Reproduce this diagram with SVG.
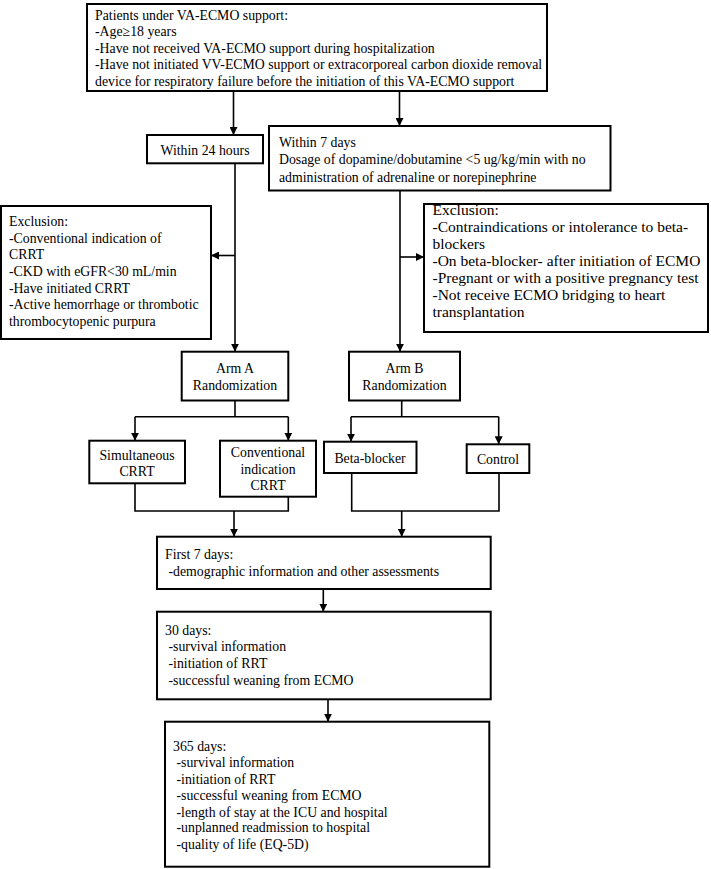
<svg xmlns="http://www.w3.org/2000/svg" width="711" height="869" viewBox="0 0 711 869">
<style>
.box{fill:#fff;stroke:#000;stroke-width:2}
.t{font-family:"Liberation Serif","Times New Roman",serif;font-size:13.8px;fill:#000}
.tb{font-family:"Liberation Serif","Times New Roman",serif;font-size:15.5px;fill:#000}
.c{text-anchor:middle}
.ln{fill:none;stroke:#000;stroke-width:1.6}
</style>
<defs>
<marker id="ah" markerUnits="userSpaceOnUse" markerWidth="8" markerHeight="8" refX="8" refY="4" orient="auto">
<path d="M0,0 L8,4 L0,8 z" fill="#000"/>
</marker>
</defs>
<rect width="711" height="869" fill="#fff"/>
<g id="connectors">
<path class="ln" d="M233.5,91 V135" marker-end="url(#ah)"/>
<path class="ln" d="M399.5,91 V126" marker-end="url(#ah)"/>
<path class="ln" d="M235,163.3 V351.7" marker-end="url(#ah)"/>
<path class="ln" d="M235,255.5 H211" marker-end="url(#ah)"/>
<path class="ln" d="M400,190.5 V351.7" marker-end="url(#ah)"/>
<path class="ln" d="M400,257 H424" marker-end="url(#ah)"/>
<path class="ln" d="M235,400.5 V416.7 M135,416.7 H288.3"/>
<path class="ln" d="M135,416.7 V440.7" marker-end="url(#ah)"/>
<path class="ln" d="M288.3,416.7 V440.7" marker-end="url(#ah)"/>
<path class="ln" d="M401.7,400.5 V416.7 M351,416.7 H498.7"/>
<path class="ln" d="M351,416.7 V441.7" marker-end="url(#ah)"/>
<path class="ln" d="M498.7,416.7 V444.3" marker-end="url(#ah)"/>
<path class="ln" d="M135,483.3 V511 H288.3 V496.7"/>
<path class="ln" d="M234,511 V536.7" marker-end="url(#ah)"/>
<path class="ln" d="M351.7,473 V511 H499 V473"/>
<path class="ln" d="M401.7,511 V536.7" marker-end="url(#ah)"/>
<path class="ln" d="M323.3,589 V611.7" marker-end="url(#ah)"/>
<path class="ln" d="M328,699.3 V721.7" marker-end="url(#ah)"/>
</g>
<g id="inclusion">
<rect class="box" x="87" y="4" width="460" height="87"/>
<text class="t" x="95" y="19.5">Patients under VA-ECMO support:</text>
<text class="t" x="95" y="36">-Age≥18 years</text>
<text class="t" x="95" y="52.5">-Have not received VA-ECMO support during hospitalization</text>
<text class="t" x="95" y="69">-Have not initiated VV-ECMO support or extracorporeal carbon dioxide removal</text>
<text class="t" x="95" y="85.5">device for respiratory failure before the initiation of this VA-ECMO support</text>
</g>
<g id="within24">
<rect class="box" x="147" y="135" width="116" height="28.3"/>
<text class="t c" x="205" y="154.5">Within 24 hours</text>
</g>
<g id="within7">
<rect class="box" x="269" y="126" width="341.5" height="64.5"/>
<text class="t" x="279" y="146.5">Within 7 days</text>
<text class="t" x="279" y="164">Dosage of dopamine/dobutamine &lt;5 ug/kg/min with no</text>
<text class="t" x="279" y="181.5">administration of adrenaline or norepinephrine</text>
</g>
<g id="exclusionA">
<rect class="box" x="1" y="206" width="210" height="133"/>
<text class="t" x="9" y="226">Exclusion:</text>
<text class="t" x="9" y="242.7">-Conventional indication of</text>
<text class="t" x="9" y="259.3">CRRT</text>
<text class="t" x="9" y="276">-CKD with eGFR&lt;30 mL/min</text>
<text class="t" x="9" y="292.7">-Have initiated CRRT</text>
<text class="t" x="9" y="309.3">-Active hemorrhage or thrombotic</text>
<text class="t" x="9" y="326">thrombocytopenic purpura</text>
</g>
<g id="exclusionB">
<rect class="box" x="424" y="204" width="284" height="128"/>
<text class="tb" x="432.5" y="215">Exclusion:</text>
<text class="tb" x="432.5" y="232">-Contraindications or intolerance to beta-</text>
<text class="tb" x="432.5" y="249">blockers</text>
<text class="tb" x="432.5" y="266">-On beta-blocker- after initiation of ECMO</text>
<text class="tb" x="432.5" y="283">-Pregnant or with a positive pregnancy test</text>
<text class="tb" x="432.5" y="300">-Not receive ECMO bridging to heart</text>
<text class="tb" x="432.5" y="317">transplantation</text>
</g>
<g id="armA">
<rect class="box" x="181.7" y="351.7" width="106.6" height="48.8"/>
<text class="t c" x="235" y="373">Arm A</text>
<text class="t c" x="235" y="389.5">Randomization</text>
</g>
<g id="armB">
<rect class="box" x="349" y="351.7" width="111" height="48.8"/>
<text class="t c" x="404.5" y="373">Arm B</text>
<text class="t c" x="404.5" y="389.5">Randomization</text>
</g>
<g id="simultaneous">
<rect class="box" x="89.3" y="440.7" width="95.7" height="42.6"/>
<text class="t c" x="137" y="459.5">Simultaneous</text>
<text class="t c" x="137" y="475.5">CRRT</text>
</g>
<g id="conventional">
<rect class="box" x="220" y="440.7" width="96" height="56"/>
<text class="t c" x="268" y="457">Conventional</text>
<text class="t c" x="268" y="473.5">indication</text>
<text class="t c" x="268" y="490">CRRT</text>
</g>
<g id="betablocker">
<rect class="box" x="324" y="441.7" width="92.5" height="31.3"/>
<text class="t c" x="370" y="462.5">Beta-blocker</text>
</g>
<g id="control">
<rect class="box" x="466.7" y="444.3" width="62.6" height="28.7"/>
<text class="t c" x="498" y="463.5">Control</text>
</g>
<g id="first7">
<rect class="box" x="157" y="536.7" width="333.7" height="52.3"/>
<text class="t" x="165" y="559">First 7 days:</text>
<text class="t" x="168.5" y="576">-demographic information and other assessments</text>
</g>
<g id="day30">
<rect class="box" x="157" y="611.7" width="333.7" height="87.6"/>
<text class="t" x="165" y="634.5">30 days:</text>
<text class="t" x="168.5" y="651">-survival information</text>
<text class="t" x="168.5" y="667.7">-initiation of RRT</text>
<text class="t" x="168.5" y="684.5">-successful weaning from ECMO</text>
</g>
<g id="day365">
<rect class="box" x="165" y="721.7" width="324.3" height="145"/>
<text class="t" x="173" y="751">365 days:</text>
<text class="t" x="176.5" y="767.3">-survival information</text>
<text class="t" x="176.5" y="783.8">-initiation of RRT</text>
<text class="t" x="176.5" y="800.3">-successful weaning from ECMO</text>
<text class="t" x="176.5" y="816.5">-length of stay at the ICU and hospital</text>
<text class="t" x="176.5" y="832.3">-unplanned readmission to hospital</text>
<text class="t" x="176.5" y="848.5">-quality of life (EQ-5D)</text>
</g>
</svg>
